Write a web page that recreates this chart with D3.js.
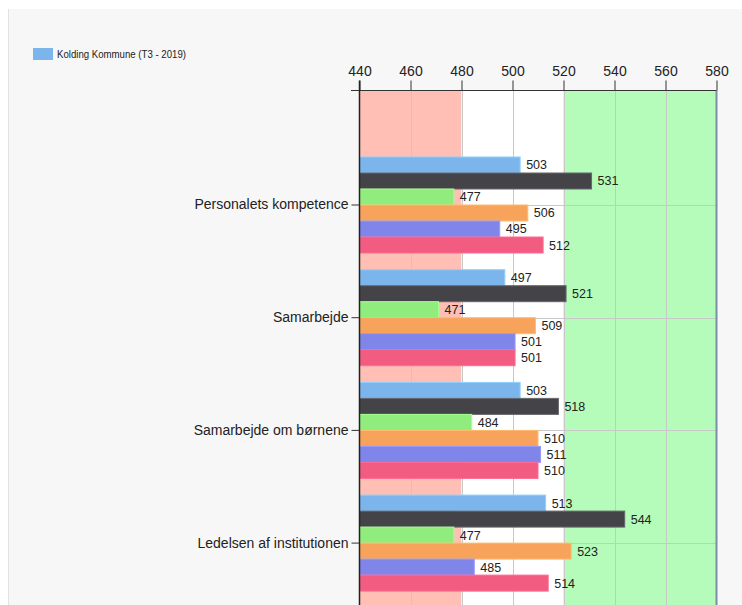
<!DOCTYPE html>
<html>
<head>
<meta charset="utf-8">
<script src="https://cdn.jsdelivr.net/npm/d3@7"></script>
<style>
  html, body { margin: 0; padding: 0; background: #ffffff; }
  svg { display: block; }
  text { font-family: "Liberation Sans", Arial, sans-serif; fill: #222; }
</style>
</head>
<body>
<svg id="chart" width="742" height="605"></svg>
<script>
// Kategorier (vist oppefra og ned)
const categories = [
  "Personalets kompetence",
  "Samarbejde",
  "Samarbejde om børnene",
  "Ledelsen af institutionen"
];

// Seks serier pr. kategori, i tegnerækkefølge
const seriesNames = ["s1", "s2", "s3", "s4", "s5", "s6"];
const seriesColors = ["#7cb5ec", "#434348", "#90ed7d", "#f7a35c", "#8085e9", "#f15c80"];

const values = [
  [503, 531, 477, 506, 495, 512],
  [497, 521, 471, 509, 501, 501],
  [503, 518, 484, 510, 511, 510],
  [513, 544, 477, 523, 485, 514]
];

// Akse og baggrundsbånd
const xTicks = [440, 460, 480, 500, 520, 540, 560, 580];
const bands = [
  { from: 440, to: 480, color: "#ffbfb5" },
  { from: 480, to: 520, color: "#ffffff" },
  { from: 520, to: 580, color: "#b5fbb9" }
];

const legendLabel = "Kolding Kommune (T3 - 2019)";

const svg = d3.select("#chart");

// Panelbaggrund
svg.append("rect")
  .attr("x", 8).attr("y", 9).attr("width", 734).attr("height", 596)
  .attr("fill", "#f7f7f7");
svg.append("line")
  .attr("x1", 8.5).attr("x2", 8.5).attr("y1", 9).attr("y2", 605)
  .attr("stroke", "#e2e2e2");

const plotLeft = 359.5, plotRight = 716.5, plotTop = 90.5, plotBottom = 605;

const x = d3.scaleLinear().domain([440, 580]).range([plotLeft, plotRight]);

const groupStep = 112.7;
const firstCenter = 205;
const y = d3.scaleBand()
  .domain(categories)
  .range([firstCenter - groupStep / 2, firstCenter - groupStep / 2 + groupStep * categories.length])
  .paddingInner(0.148).paddingOuter(0.074);

const ySub = d3.scaleBand().domain(seriesNames).range([0, y.bandwidth()]);

// Bånd
svg.append("g").selectAll("rect").data(bands).join("rect")
  .attr("x", d => x(d.from))
  .attr("width", d => x(d.to) - x(d.from))
  .attr("y", plotTop)
  .attr("height", plotBottom - plotTop)
  .attr("fill", d => d.color);

// Gitterlinjer
svg.append("g").selectAll("line").data(xTicks.slice(1, -1)).join("line")
  .attr("x1", d => Math.round(x(d)) + 0.5).attr("x2", d => Math.round(x(d)) + 0.5)
  .attr("y1", plotTop).attr("y2", plotBottom)
  .attr("stroke", "#c8c8c8").attr("stroke-width", 1);

svg.append("g").selectAll("line").data(categories).join("line")
  .attr("x1", plotLeft).attr("x2", plotRight)
  .attr("y1", d => Math.round(y(d) + y.bandwidth() / 2) + 0.5)
  .attr("y2", d => Math.round(y(d) + y.bandwidth() / 2) + 0.5)
  .attr("stroke", "#c8c8c8");

// Søjler
const groups = svg.append("g").selectAll("g").data(categories).join("g")
  .attr("transform", d => `translate(0,${y(d)})`);

groups.each(function (cat, ci) {
  const g = d3.select(this);
  const rows = values[ci].map((v, si) => ({ v, si, name: seriesNames[si] }));
  g.selectAll("rect").data(rows).join("rect")
    .attr("x", x(440))
    .attr("y", d => ySub(d.name))
    .attr("width", d => x(d.v) - x(440))
    .attr("height", ySub.bandwidth())
    .attr("fill", d => seriesColors[d.si])
    .attr("stroke", d => d3.color(seriesColors[d.si]).brighter(d.si === 1 ? 1.2 : 0.4))
    .attr("stroke-width", 1);
  g.selectAll("text").data(rows).join("text")
    .attr("x", d => x(d.v) + 6)
    .attr("y", d => ySub(d.name) + ySub.bandwidth() / 2)
    .attr("dy", "0.36em")
    .attr("font-size", 12.5)
    .text(d => d.v);
});

// Højre kant af plotområdet
svg.append("line")
  .attr("x1", plotRight).attr("x2", plotRight)
  .attr("y1", plotTop).attr("y2", plotBottom)
  .attr("stroke", "#7890a8").attr("stroke-width", 2);

// Top-akse
const xAxis = d3.axisTop(x).tickValues(xTicks).tickSize(10).tickSizeOuter(0).tickPadding(5);
const gx = svg.append("g").attr("transform", `translate(0,${plotTop})`).call(xAxis);
gx.select(".domain").remove();
gx.selectAll(".tick line").attr("stroke", "#333");
gx.selectAll(".tick text")
  .attr("font-size", 14)
  .attr("font-family", "'Liberation Sans', Arial, sans-serif")
  .attr("fill", "#222");
svg.append("line")
  .attr("x1", 351).attr("x2", plotRight)
  .attr("y1", plotTop).attr("y2", plotTop)
  .attr("stroke", "#333");

// Venstre kategori-akse
const yAxis = d3.axisLeft(y).tickSize(8).tickSizeOuter(0).tickPadding(3);
const gy = svg.append("g").attr("transform", `translate(${plotLeft},0)`).call(yAxis);
gy.select(".domain").remove();
gy.selectAll(".tick line").attr("stroke", "#333");
gy.selectAll(".tick text")
  .attr("font-size", 14)
  .attr("font-family", "'Liberation Sans', Arial, sans-serif")
  .attr("fill", "#222");
svg.append("line")
  .attr("x1", plotLeft).attr("x2", plotLeft)
  .attr("y1", plotTop - 10).attr("y2", plotBottom)
  .attr("stroke", "#222").attr("stroke-width", 1.5);

// Forklaring
const legend = svg.append("g").attr("transform", "translate(33,48)");
legend.append("rect").attr("width", 20).attr("height", 12).attr("fill", seriesColors[0]);
legend.append("text")
  .attr("x", 24).attr("y", 6).attr("dy", "0.35em")
  .attr("font-size", 11)
  .attr("textLength", 129)
  .attr("lengthAdjust", "spacingAndGlyphs")
  .attr("fill", "#222")
  .text(legendLabel);
</script>
</body>
</html>
